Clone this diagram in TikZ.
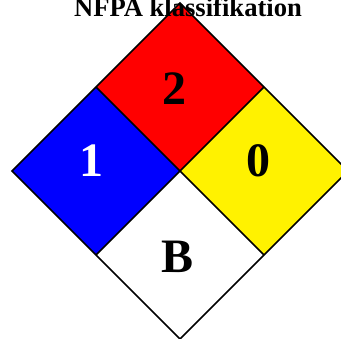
\documentclass[tikz,border=0pt]{standalone}
\usepackage{fontspec}
\setmainfont{Liberation Serif}
\begin{document}
\begin{tikzpicture}[x=1pt,y=-1pt,
  cell/.style={draw=black,line width=1.6pt,line join=miter},
  digit/.style={font=\bfseries\fontsize{48}{48}\selectfont,anchor=base,inner sep=0pt},
  ttl/.style={font=\bfseries\fontsize{26.6}{27}\selectfont,anchor=base,inner sep=0pt}]
\useasboundingbox (0,0) rectangle (341,339);
% cells: red (top), blue (left), yellow (right), white (bottom)
\fill[red]    (180,3) -- (264,87) -- (180,171) -- (96,87) -- cycle;
\fill[blue]   (96,87) -- (180,171) -- (96,255) -- (12,171) -- cycle;
\fill[yellow] (264,87) -- (348,171) -- (264,255) -- (180,171) -- cycle;
\fill[white]  (180,171) -- (264,255) -- (180,339) -- (96,255) -- cycle;
% outlines
\draw[cell] (180,3) -- (348,171) -- (180,339) -- (12,171) -- cycle;
\draw[cell] (96,87) -- (264,255);
\draw[cell] (264,87) -- (96,255);
% labels
\node[ttl] (title) at (188,17) {NFPA klassifikation};
\node[digit,text=white] (health) at (91,177) {1};
\node[digit] (fire) at (174,105) {2};
\node[digit] (react) at (259,177) {0};
\node[digit] (spec) at (178,273) {B};
\end{tikzpicture}
\end{document}
